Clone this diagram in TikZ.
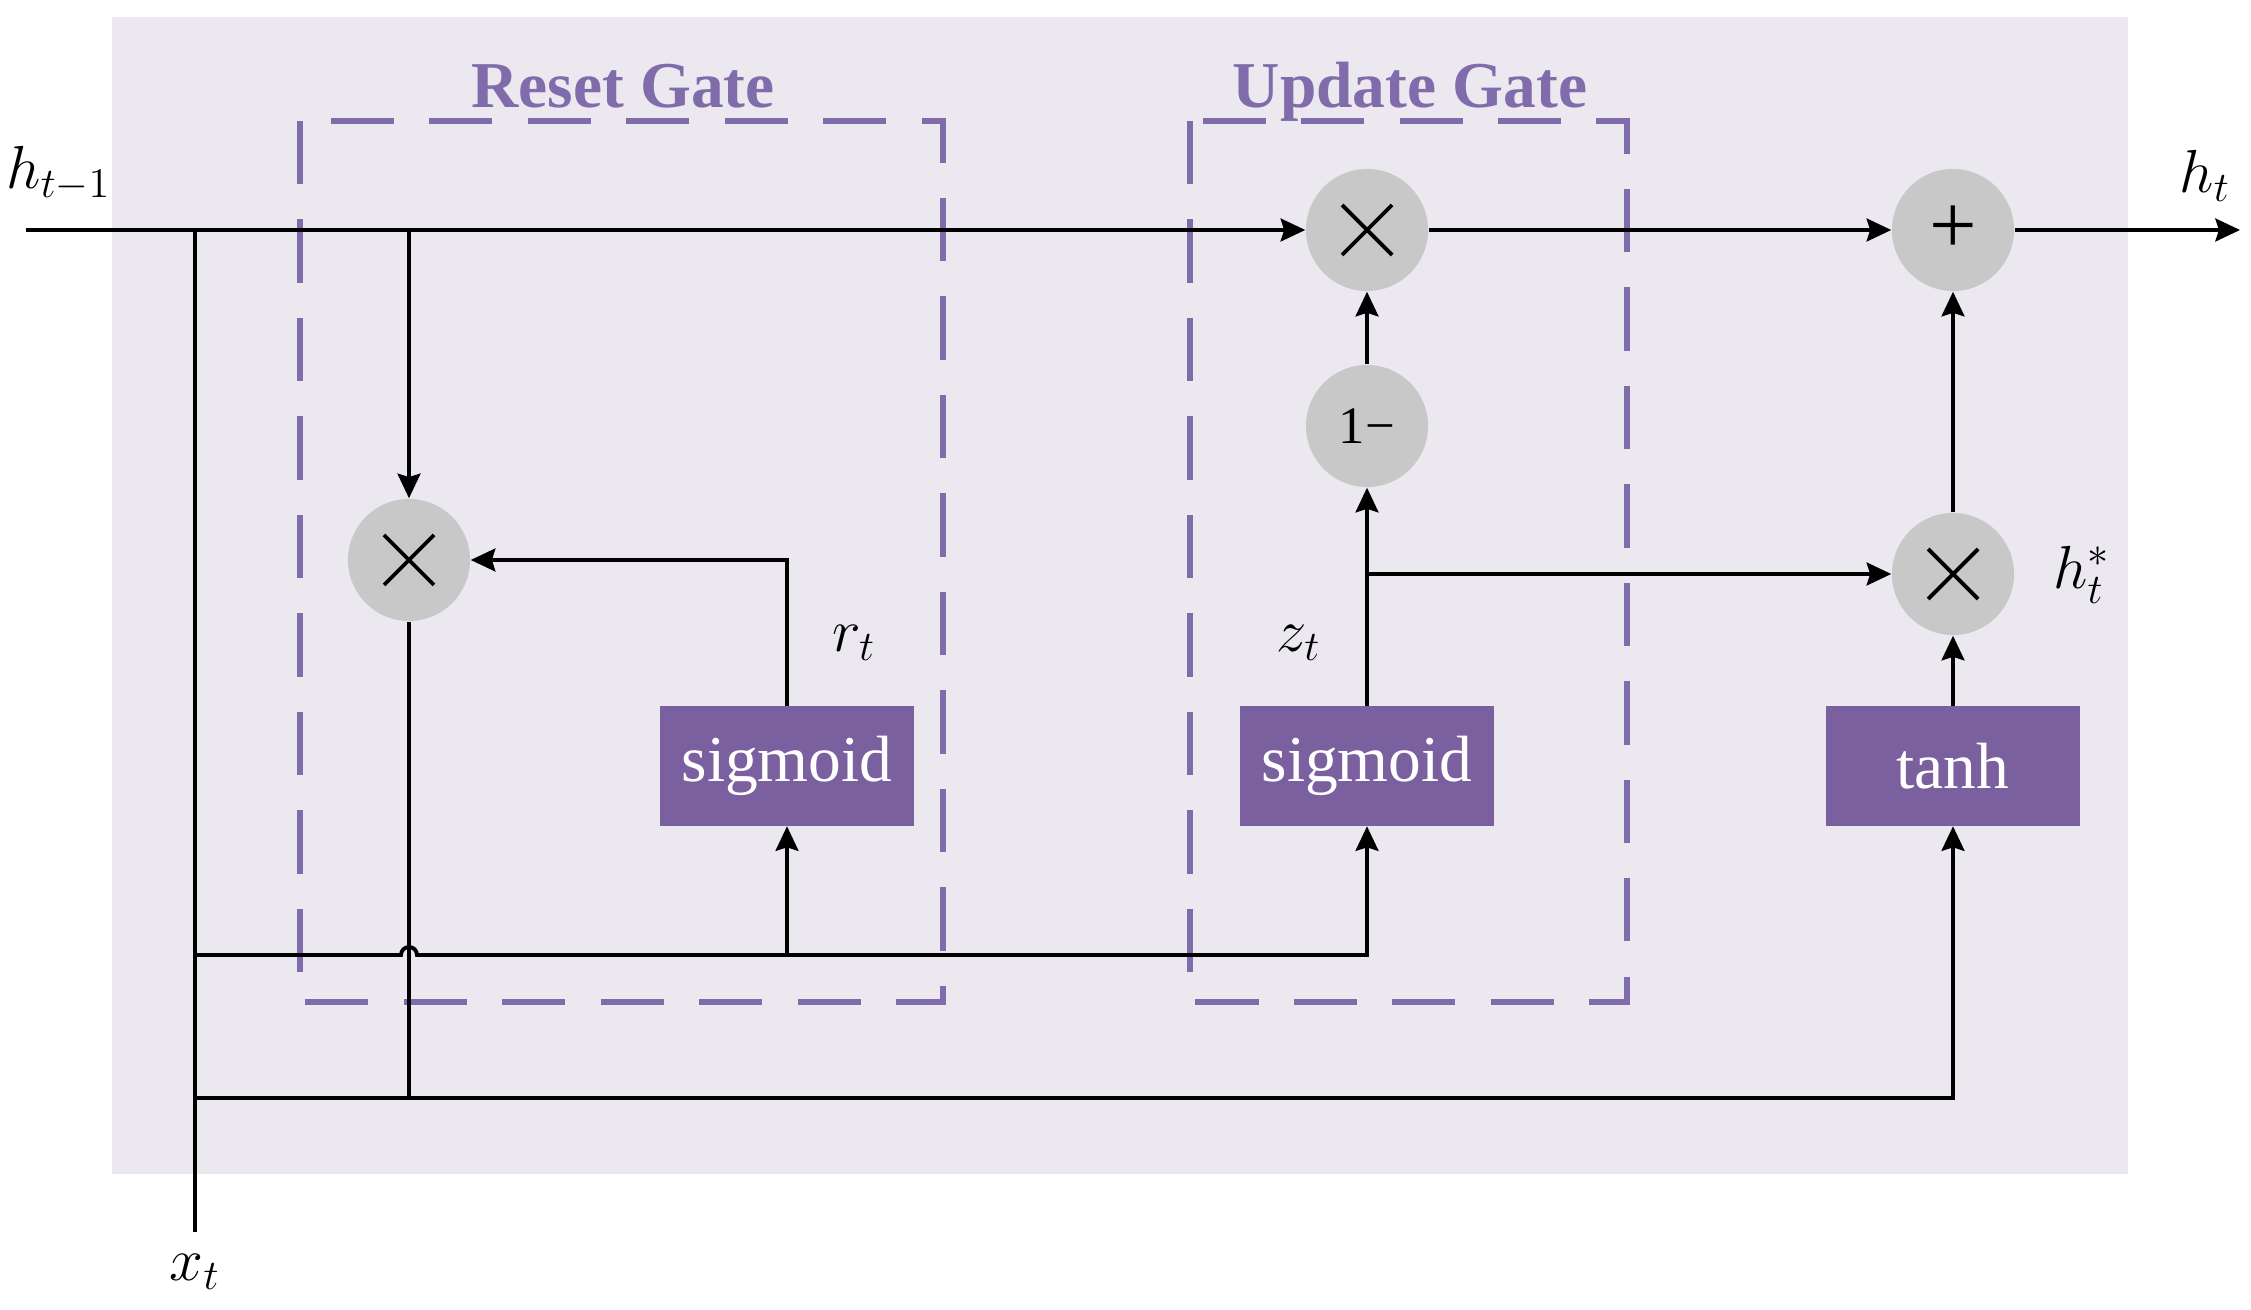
\documentclass[tikz,border=0pt]{standalone}
\usepackage{fontspec}
\setmainfont{Liberation Serif}
\usepackage{tikz}
\usetikzlibrary{arrows.meta}
\definecolor{bgcol}{RGB}{235,232,240}
\definecolor{gatecol}{RGB}{128,108,170}
\definecolor{boxcol}{RGB}{123,96,160}
\definecolor{opgray}{RGB}{200,200,200}

\begin{document}
\begin{tikzpicture}[x=0.01cm, y=-0.01cm, font=\fontsize{18.6}{22}\selectfont,
    line/.style={line width=1.1pt},
    flow/.style={line width=1.1pt, -{Stealth[length=7pt, width=6.5pt, inset=1pt]}},
    gatebox/.style={gatecol, line width=1.6pt, dash pattern=on 18pt off 10pt},
    gatetitle/.style={text=gatecol, font=\fontsize{18.6}{22}\selectfont\bfseries, anchor=base},
    opnode/.style={circle, fill=opgray, minimum size=1.22cm, inner sep=0pt, font=\fontsize{15}{18}\selectfont},
    mulnode/.style={opnode, path picture={
        \draw[line width=1.1pt] ([shift={(-25,-25)}]path picture bounding box.center) -- ([shift={(25,25)}]path picture bounding box.center);
        \draw[line width=1.1pt] ([shift={(-25,25)}]path picture bounding box.center) -- ([shift={(25,-25)}]path picture bounding box.center);}},
    actbox/.style={rectangle, fill=boxcol, text=white, minimum width=2.54cm, minimum height=1.19cm, inner sep=0pt}]
  \useasboundingbox (0,0) rectangle (2251,1310);
  \fill[bgcol] (112,17) rectangle (2128,1174);
  \draw[gatebox] (300,121) rectangle (943,1002);
  \draw[gatebox] (1190,121) rectangle (1627,1002);
  \node[gatetitle] (resettitle) at (623,108) {Reset Gate};
  \node[gatetitle] (updatetitle) at (1410,108) {Update Gate};

  \node[mulnode] (rmul) at (409,560) {};
  \node[actbox] (rsig) at (787,766) {sigmoid};
  \node[mulnode] (umul) at (1367,230) {};
  \node[opnode] (oneminus) at (1367,426) {1−};
  \node[actbox] (usig) at (1367,766) {sigmoid};
  \node[mulnode] (hmul) at (1953,574) {};
  \node[opnode, font=\fontsize{24}{26}\selectfont] (add) at (1953,230) {+};
  \node[actbox] (tanh) at (1953,766) {tanh};

  \coordinate (hin) at (26,230);
  \coordinate (hout) at (2240,230);
  \coordinate (xin) at (195,1232);
  \coordinate (xtop) at (195,230);
  \coordinate (xgate) at (195,955);
  \coordinate (xcand) at (195,1098);
  \coordinate (rtap) at (409,230);
  \coordinate (hopL) at (401,955);
  \coordinate (rsigin) at (787,955);
  \coordinate (zsplit) at (1367,574);
  \coordinate (rjoin) at (409,1098);

  \draw[flow] (hin) -- (umul);
  \draw[line] (xin) -- (xtop);
  \draw[flow] (rtap) -- (rmul);
  \draw[flow] (rsig) |- (rmul);
  \draw[flow] (umul) -- (add);
  \draw[flow] (add) -- (hout);
  \draw[flow] (usig) -- (oneminus);
  \draw[flow] (oneminus) -- (umul);
  \draw[flow] (zsplit) -- (hmul);
  \draw[flow] (tanh) -- (hmul);
  \draw[flow] (hmul) -- (add);
  \draw[line] (rmul) -- (rjoin);
  \draw[flow] (xcand) -| (tanh);
  \draw[flow] (xgate) -- (hopL) arc[start angle=180, end angle=360, radius=8] -| (usig);
  \draw[flow] (rsigin) -- (rsig);

  \node[anchor=west, inner sep=0pt] (hinlbl) at (6,174) {$h_{t-1}$};
  \node (houtlbl) at (2205,176) {$h_t$};
  \node (xinlbl) at (195,1272) {$x_t$};
  \node (rlbl) at (854,643) {$r_t$};
  \node (zlbl) at (1299,643) {$z_t$};
  \node (hstarlbl) at (2082,575) {$h_t^{*}$};
\end{tikzpicture}
\end{document}
